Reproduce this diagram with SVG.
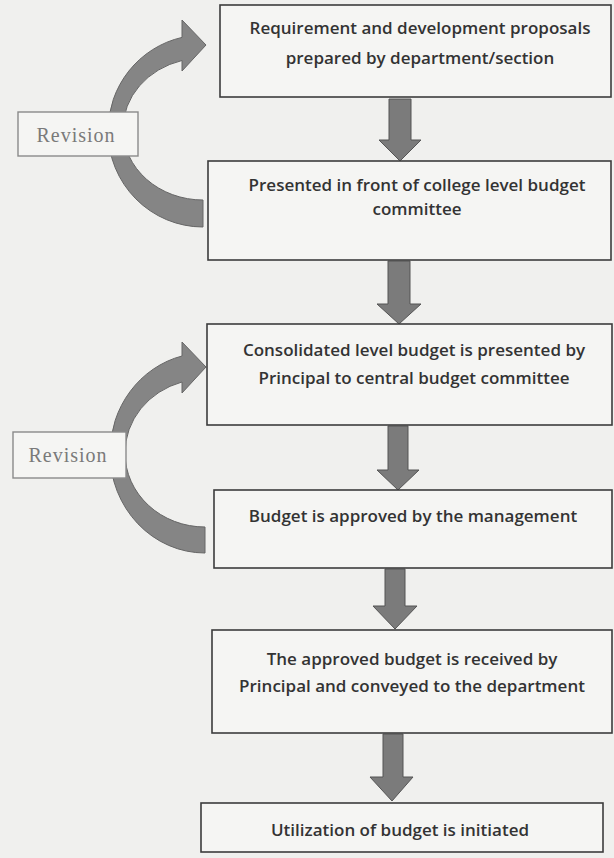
<svg xmlns="http://www.w3.org/2000/svg" width="614" height="858" viewBox="0 0 614 858">
<style>
.bg{fill:#f0f0ee}
.box{fill:#f5f5f3;stroke:#3c3c3c;stroke-width:1.6}
.rbox{fill:#f5f5f3;stroke:#8a8a8a;stroke-width:1.4}
.t{font-family:"Open Sans","Noto Sans","Liberation Sans",sans-serif;font-weight:600;font-size:17px;fill:#333;text-anchor:middle}
.r{font-family:"Liberation Serif","DejaVu Serif",serif;font-size:20px;letter-spacing:1px;fill:#7a7a7a;text-anchor:middle}
.arr{fill:#7b7b7b;stroke:#555;stroke-width:1}
.carr{fill:#858585;stroke:#666;stroke-width:1}
</style>
<rect class="bg" x="0" y="0" width="614" height="858"/>

<g id="connectors">
  <path class="carr" d="M203 227 A95 96 0 0 1 108 131 A95 96 0 0 1 182 37.4 L182 20 L206 45 L182 71 L182 60.5 A80 71 0 0 0 123 129 A80 71 0 0 0 203 200 Z"/>
  <path class="carr" d="M205 553 A95 100 0 0 1 110 453 A95 100 0 0 1 182 356 L182 342 L206 367 L182 393 L182 382 A80 74 0 0 0 125 453 A80 74 0 0 0 205 527 Z"/>
  <path class="arr" d="M389 99 L411 99 L411 140 L421 140 L400 161 L379 140 L389 140 Z"/>
  <path class="arr" d="M388 261 L410 261 L410 304 L421 304 L399 324 L377 304 L388 304 Z"/>
  <path class="arr" d="M388 426 L408 426 L408 470 L419 470 L398 490 L377 470 L388 470 Z"/>
  <path class="arr" d="M385 569 L405 569 L405 606 L417 606 L395 629 L373 606 L385 606 Z"/>
  <path class="arr" d="M383 734 L403 734 L403 777 L413 777 L392 801 L370 777 L383 777 Z"/>
</g>

<g id="revision1">
  <rect class="rbox" x="18" y="112" width="120" height="44"/>
  <text class="r" x="76" y="142">Revision</text>
</g>
<g id="revision2">
  <rect class="rbox" x="13" y="432" width="113" height="46"/>
  <text class="r" x="68" y="462">Revision</text>
</g>

<g id="n1">
  <rect class="box" x="220" y="5" width="391" height="92"/>
  <text class="t" x="420" y="34">Requirement and development proposals</text>
  <text class="t" x="420" y="64">prepared by department/section</text>
</g>
<g id="n2">
  <rect class="box" x="208" y="161" width="403" height="99"/>
  <text class="t" x="417" y="191">Presented in front of college level budget</text>
  <text class="t" x="417" y="215">committee</text>
</g>
<g id="n3">
  <rect class="box" x="207" y="324" width="405" height="101"/>
  <text class="t" x="414" y="356">Consolidated level budget is presented by</text>
  <text class="t" x="414" y="384">Principal to central budget committee</text>
</g>
<g id="n4">
  <rect class="box" x="214" y="490" width="398" height="78"/>
  <text class="t" x="413" y="522">Budget is approved by the management</text>
</g>
<g id="n5">
  <rect class="box" x="212" y="630" width="400" height="103"/>
  <text class="t" x="412" y="665">The approved budget is received by</text>
  <text class="t" x="412" y="692">Principal and conveyed to the department</text>
</g>
<g id="n6">
  <rect class="box" x="201" y="803" width="402" height="49"/>
  <text class="t" x="400" y="836">Utilization of budget is initiated</text>
</g>
</svg>
